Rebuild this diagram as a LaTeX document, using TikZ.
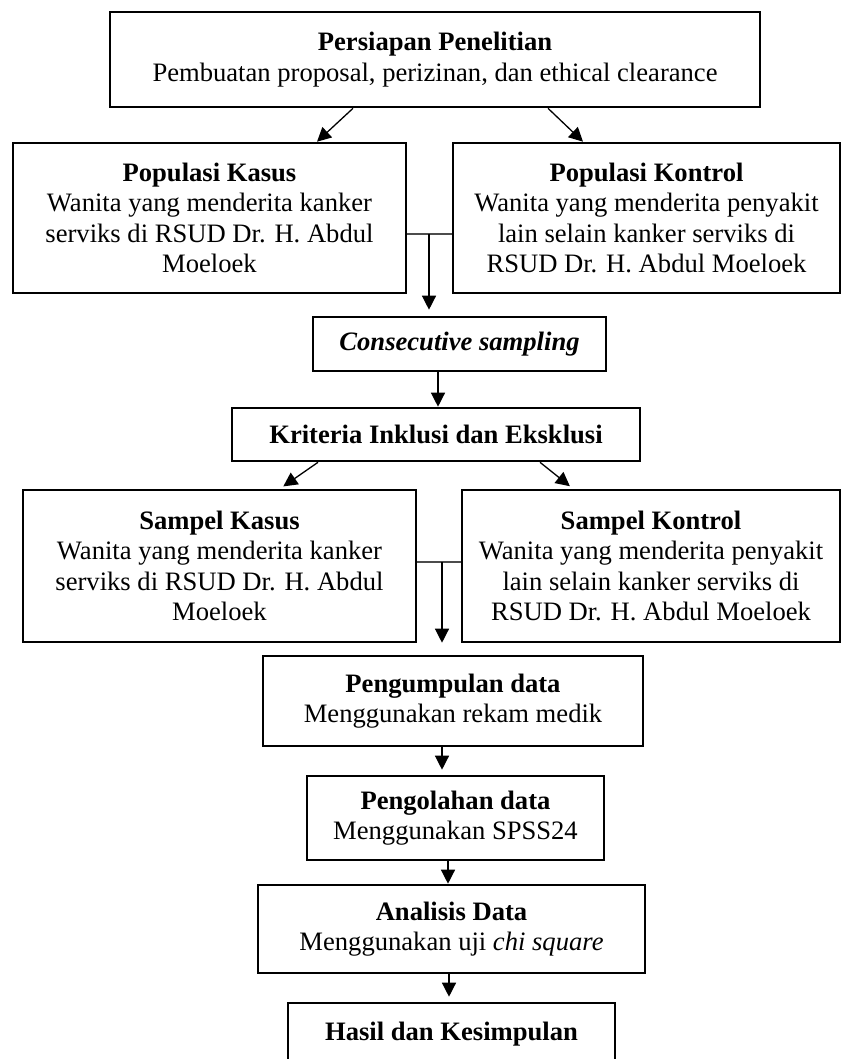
\documentclass[tikz,border=0pt]{standalone}
\usepackage{fontspec}
\setmainfont{Liberation Serif}
\usetikzlibrary{arrows.meta,calc}
\newcommand{\flowfont}{\fontsize{26.6}{30.5}\selectfont}
\begin{document}
\begin{tikzpicture}[x=1pt,y=-1pt,
  stepbox/.style={draw, line width=2.6pt, inner sep=0pt, align=center, font=\flowfont},
  arr/.style={-{Triangle[length=14pt,width=14pt]}, line width=1.3pt},
  joint/.style={line width=1.3pt, black!70}]
\useasboundingbox (0,0) rectangle (844,1059);
\clip (0,0) rectangle (844,1059);

% boxes
\node[stepbox, minimum width=650pt, minimum height=95pt] (top) at (435,59.5)
  {\textbf{Persiapan Penelitian}\\Pembuatan proposal, perizinan, dan ethical clearance};
\node[stepbox, minimum width=393pt, minimum height=150pt] (pk) at (209.5,218)
  {\textbf{Populasi Kasus}\\Wanita yang menderita kanker\\serviks di RSUD Dr. H. Abdul\\Moeloek};
\node[stepbox, minimum width=387pt, minimum height=150pt] (pc) at (646.5,218)
  {\textbf{Populasi Kontrol}\\Wanita yang menderita penyakit\\lain selain kanker serviks di\\RSUD Dr. H. Abdul Moeloek};
\node[stepbox, minimum width=293pt, minimum height=54pt] (cs) at (459.5,344)
  {\textbf{\textit{Consecutive sampling}}};
\node[stepbox, minimum width=408pt, minimum height=53pt] (kr) at (436,434.5)
  {\textbf{Kriteria Inklusi dan Eksklusi}};
\node[stepbox, minimum width=393pt, minimum height=152pt] (sk) at (219.5,566)
  {\textbf{Sampel Kasus}\\Wanita yang menderita kanker\\serviks di RSUD Dr. H. Abdul\\Moeloek};
\node[stepbox, minimum width=378pt, minimum height=152pt] (sc) at (651,566)
  {\textbf{Sampel Kontrol}\\Wanita yang menderita penyakit\\lain selain kanker serviks di\\RSUD Dr. H. Abdul Moeloek};
\node[stepbox, minimum width=380pt, minimum height=90pt] (pd) at (453,701)
  {\textbf{Pengumpulan data}\\Menggunakan rekam medik};
\node[stepbox, minimum width=297pt, minimum height=84pt] (po) at (455.5,818)
  {\textbf{Pengolahan data}\\Menggunakan SPSS24};
\node[stepbox, minimum width=387pt, minimum height=88pt] (an) at (451.5,929)
  {\textbf{Analisis Data}\\Menggunakan uji \textit{chi square}};
\node[stepbox, minimum width=327pt, minimum height=63pt] (hk) at (451.5,1034.5)
  {\textbf{Hasil dan Kesimpulan}};

% connectors
\draw[arr] ([xshift=-82pt]top.south) -- ([xshift=107.5pt]pk.north);
\draw[arr] ([xshift=113pt]top.south) -- ([xshift=-63.5pt]pc.north);

\draw[joint] ([yshift=-16pt]pk.east) -- ([yshift=-16pt]pc.west);
\coordinate (j1) at (429,234);
\draw[arr, shorten >=6pt] (j1) -- (j1 |- cs.north);

\draw[arr] ([xshift=-21.5pt]cs.south) -- ([xshift=-21.5pt]cs.south |- kr.north);

\draw[arr, shorten >=4pt] ([xshift=-118pt]kr.south) -- ([xshift=60.5pt]sk.north);
\draw[arr, shorten >=4pt] ([xshift=104pt]kr.south) -- ([xshift=-78pt]sc.north);

\draw[joint] ([yshift=4pt]sk.east) -- ([yshift=4pt]sc.west);
\coordinate (j2) at (442,562);
\draw[arr, shorten >=12pt] (j2) -- (j2 |- pd.north);

\draw[arr, shorten >=5pt] ([xshift=-11pt]pd.south) -- ([xshift=-11pt]pd.south |- po.north);
\draw[arr] ([xshift=-7.5pt]po.south) -- ([xshift=-7.5pt]po.south |- an.north);
\draw[arr, shorten >=5pt] ([xshift=-2.5pt]an.south) -- ([xshift=-2.5pt]an.south |- hk.north);
\end{tikzpicture}
\end{document}
